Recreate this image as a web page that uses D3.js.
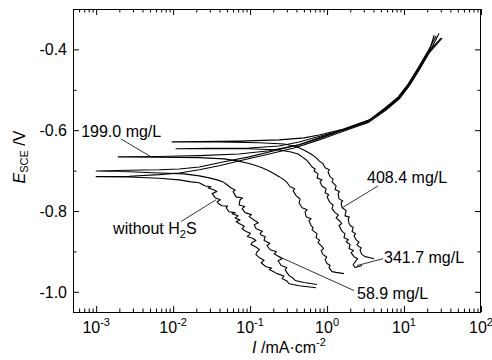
<!DOCTYPE html>
<html>
<head>
<meta charset="utf-8">
<script src="https://cdn.jsdelivr.net/npm/d3@7"></script>
<style>
body{margin:0;background:#fff;}
svg text{font-family:"Liberation Sans",Arial,sans-serif;fill:#000;}
</style>
</head>
<body>
<svg id="chart" width="492" height="360"></svg>
<script>
// polarization curves, points are [I (mA/cm2), E (V vs SCE)], scan from cathodic end to anodic end
const noH2S = [[0.719,-0.990],[0.433,-0.985],[0.321,-0.980],[0.300,-0.973],[0.260,-0.967],[0.275,-0.961],[0.224,-0.955],
  [0.200,-0.950],[0.177,-0.945],[0.190,-0.941],[0.161,-0.938],[0.139,-0.928],[0.152,-0.922],[0.131,-0.915],[0.119,-0.908],
  [0.123,-0.901],[0.132,-0.895],[0.116,-0.888],[0.103,-0.883],[0.106,-0.878],[0.119,-0.873],[0.109,-0.868],[0.092,-0.863],
  [0.0971,-0.859],[0.101,-0.855],[0.0887,-0.851],[0.0787,-0.844],[0.084,-0.838],[0.0720,-0.831],[0.066,-0.826],
  [0.0741,-0.822],[0.0638,-0.817],[0.070,-0.812],[0.0583,-0.807],[0.064,-0.804],[0.0533,-0.802],[0.0488,-0.792],
  [0.051,-0.788],[0.0433,-0.787],[0.039,-0.782],[0.0373,-0.777],[0.041,-0.772],[0.0351,-0.767],[0.0321,-0.757],
  [0.037,-0.752],[0.0331,-0.747],[0.0285,-0.743],[0.031,-0.740],[0.0261,-0.738],[0.0218,-0.730],[0.0171,-0.728],
  [0.0120,-0.723],[0.00658,-0.719],[0.00268,-0.716],[0.00100,-0.715],[0.00268,-0.714],[0.00658,-0.710],[0.0120,-0.706],
  [0.0218,-0.698],[0.0396,-0.688],[0.0836,-0.673],[0.177,-0.659],[0.373,-0.644],[0.787,-0.624],[1.66,-0.602],[3.51,-0.580],
  [5.84,-0.550],[8.61,-0.523],[11.6,-0.491],[15.7,-0.451],[21.1,-0.409],[31.2,-0.372]];

const c589 = [[0.741,-0.982],[0.503,-0.977],[0.384,-0.972],[0.36,-0.966],[0.321,-0.960],[0.300,-0.952],[0.285,-0.945],
  [0.30,-0.940],[0.253,-0.935],[0.231,-0.923],[0.26,-0.918],[0.238,-0.913],[0.205,-0.906],[0.22,-0.901],[0.182,-0.896],
  [0.166,-0.886],[0.18,-0.880],[0.152,-0.873],[0.157,-0.863],[0.14,-0.860],[0.135,-0.856],[0.145,-0.850],[0.120,-0.844],
  [0.113,-0.834],[0.128,-0.829],[0.116,-0.824],[0.0971,-0.814],[0.104,-0.809],[0.0861,-0.804],[0.0787,-0.794],
  [0.085,-0.789],[0.0720,-0.785],[0.0741,-0.772],[0.080,-0.768],[0.0658,-0.765],[0.0601,-0.752],[0.064,-0.748],
  [0.0566,-0.743],[0.0502,-0.735],[0.0446,-0.728],[0.0373,-0.723],[0.0294,-0.718],[0.0218,-0.713],[0.0139,-0.708],
  [0.00658,-0.706],[0.00268,-0.703],[0.00100,-0.701],[0.00268,-0.699],[0.00658,-0.698],[0.0120,-0.696],[0.0218,-0.691],
  [0.0459,-0.678],[0.0971,-0.666],[0.205,-0.651],[0.433,-0.636],[0.836,-0.619],[1.66,-0.599],[3.51,-0.577],[5.66,-0.547],
  [8.36,-0.520],[11.3,-0.488],[15.2,-0.449],[20.5,-0.407],[30.3,-0.372]];

const c1990 = [[1.66,-0.955],[1.31,-0.952],[1.16,-0.950],[1.06,-0.940],[1.10,-0.935],[1.00,-0.930],[0.942,-0.920],
  [0.99,-0.914],[0.887,-0.908],[0.836,-0.898],[0.90,-0.893],[0.861,-0.888],[0.764,-0.878],[0.80,-0.872],[0.719,-0.866],
  [0.741,-0.856],[0.68,-0.851],[0.638,-0.846],[0.66,-0.841],[0.619,-0.836],[0.583,-0.824],[0.62,-0.819],[0.534,-0.814],
  [0.518,-0.802],[0.55,-0.797],[0.474,-0.792],[0.433,-0.780],[0.446,-0.770],[0.42,-0.766],[0.396,-0.762],[0.362,-0.750],
  [0.38,-0.745],[0.331,-0.740],[0.303,-0.730],[0.277,-0.723],[0.238,-0.715],[0.205,-0.708],[0.177,-0.701],[0.143,-0.693],
  [0.113,-0.686],[0.0914,-0.681],[0.0678,-0.676],[0.0459,-0.671],[0.0218,-0.668],[0.00658,-0.667],[0.00193,-0.666],
  [0.00658,-0.665],[0.0218,-0.663],[0.0720,-0.659],[0.177,-0.651],[0.433,-0.636],[0.836,-0.617],[1.66,-0.597],[3.51,-0.575],
  [5.66,-0.545],[8.36,-0.518],[11.3,-0.486],[15.2,-0.446],[20.5,-0.404],[26.1,-0.367]];

const c3417 = [[2.85,-0.935],[2.31,-0.940],[2.18,-0.933],[2.38,-0.923],[2.5,-0.918],[2.24,-0.913],[2.05,-0.903],
  [2.2,-0.898],[1.93,-0.893],[1.99,-0.883],[1.77,-0.876],[1.9,-0.871],[1.66,-0.866],[1.71,-0.856],[1.58,-0.851],
  [1.52,-0.846],[1.43,-0.836],[1.55,-0.831],[1.48,-0.826],[1.31,-0.817],[1.40,-0.810],[1.27,-0.804],[1.16,-0.794],
  [1.20,-0.785],[1.10,-0.780],[1.06,-0.775],[1.00,-0.765],[1.05,-0.760],[0.942,-0.755],[0.971,-0.745],[0.861,-0.738],
  [0.811,-0.728],[0.86,-0.723],[0.741,-0.718],[0.764,-0.708],[0.678,-0.701],[0.70,-0.696],[0.638,-0.691],[0.583,-0.681],
  [0.534,-0.673],[0.474,-0.666],[0.420,-0.659],[0.341,-0.654],[0.238,-0.649],[0.0971,-0.646],[0.0294,-0.646],
  [0.0109,-0.646],[0.0294,-0.645],[0.0971,-0.644],[0.238,-0.639],[0.433,-0.629],[0.741,-0.617],[1.66,-0.599],[3.51,-0.577],
  [5.84,-0.547],[8.61,-0.520],[11.6,-0.488],[15.7,-0.449],[21.1,-0.407],[24.6,-0.365]];

const c4084 = [[4.08,-0.918],[3.51,-0.915],[3.12,-0.913],[2.85,-0.908],[2.68,-0.898],[2.77,-0.891],[2.55,-0.887],
  [2.45,-0.883],[2.6,-0.877],[2.38,-0.871],[2.24,-0.861],[2.35,-0.856],[2.11,-0.851],[2.18,-0.841],[2.0,-0.836],
  [1.93,-0.831],[1.88,-0.819],[1.95,-0.815],[1.71,-0.812],[1.77,-0.799],[1.66,-0.795],[1.57,-0.792],[1.52,-0.780],
  [1.60,-0.775],[1.43,-0.770],[1.39,-0.757],[1.45,-0.752],[1.27,-0.747],[1.31,-0.738],[1.16,-0.728],[1.20,-0.721],
  [1.09,-0.715],[1.03,-0.703],[1.07,-0.698],[0.942,-0.693],[0.887,-0.683],[0.787,-0.676],[0.719,-0.668],[0.619,-0.659],
  [0.518,-0.651],[0.408,-0.641],[0.277,-0.634],[0.131,-0.631],[0.0396,-0.629],[0.0161,-0.629],[0.0097,-0.629],
  [0.0218,-0.628],[0.0720,-0.627],[0.238,-0.624],[0.503,-0.619],[0.787,-0.612],[1.66,-0.597],[3.51,-0.575],[6.01,-0.545],
  [8.87,-0.518],[12.0,-0.486],[16.1,-0.446],[21.8,-0.404],[28.5,-0.360]];

const seriesList = [noH2S, c589, c1990, c3417, c4084];

// ticks
const xMajor = [1e-3, 1e-2, 1e-1, 1, 10, 100];
const xExp = ["-3", "-2", "-1", "0", "1", "2"];
const yMajor = [-1.0, -0.8, -0.6, -0.4];
const yMinor = [-0.9, -0.7, -0.5];

// annotations: label position, then pointer from / to (data units)
const notes = [
  {text: "199.0 mg/L", at: [0.000638, -0.617], from: [0.00211, -0.622], to: [0.00518, -0.666]},
  {text: "without H", sub: "2", tail: "S", at: [0.00166, -0.858], from: [0.0127, -0.826], to: [0.0362, -0.772]},
  {text: "408.4 mg/L", at: [3.31, -0.730], from: [4.59, -0.738], to: [1.57, -0.792]},
  {text: "341.7 mg/L", at: [5.50, -0.928], from: [5.34, -0.918], to: [2.45, -0.935]},
  {text: "58.9 mg/L", at: [2.45, -1.017], from: [2.24, -0.997], to: [0.238, -0.913]}
];

const svg = d3.select("#chart");
const L = 73, R = 481, T = 9, B = 312;
const x = d3.scaleLog().domain([5e-4, 100]).range([L, R]);
const y = d3.scaleLinear().domain([-1.05, -0.30]).range([B, T]);

let xMinor = [];
for (let p = -4; p <= 1; p++) {
  for (let k = 2; k <= 9; k++) {
    const v = k * Math.pow(10, p);
    if (v >= 5e-4 && v < 100) xMinor.push(v);
  }
}

function addAxis(gen, tx, ty) {
  svg.append("g")
    .attr("transform", "translate(" + tx + "," + ty + ")")
    .call(gen)
    .call(g => g.select(".domain").remove());
}
// inward ticks on all four sides
addAxis(d3.axisBottom(x).tickValues(xMajor).tickSize(-6).tickFormat(""), 0, B);
addAxis(d3.axisBottom(x).tickValues(xMinor).tickSize(-3.5).tickFormat(""), 0, B);
addAxis(d3.axisTop(x).tickValues(xMajor).tickSize(-6).tickFormat(""), 0, T);
addAxis(d3.axisTop(x).tickValues(xMinor).tickSize(-3.5).tickFormat(""), 0, T);
addAxis(d3.axisLeft(y).tickValues(yMajor).tickSize(-6).tickFormat(""), L, 0);
addAxis(d3.axisLeft(y).tickValues(yMinor).tickSize(-3.5).tickFormat(""), L, 0);
addAxis(d3.axisRight(y).tickValues(yMajor).tickSize(-6).tickFormat(""), R, 0);
addAxis(d3.axisRight(y).tickValues(yMinor).tickSize(-3.5).tickFormat(""), R, 0);

svg.append("rect")
  .attr("x", L + 0.5).attr("y", T + 0.5)
  .attr("width", R - L - 1).attr("height", B - T)
  .attr("fill", "none").attr("stroke", "#000").attr("stroke-width", 1);

// tick labels
const xl = svg.append("g").selectAll("text").data(xMajor).enter().append("text")
  .attr("x", d => x(d)).attr("y", 333)
  .attr("text-anchor", "middle").attr("font-size", 16);
xl.append("tspan").text("10");
xl.append("tspan").attr("dy", -7).attr("font-size", 11).text((d, i) => xExp[i]);

svg.append("g").selectAll("text").data(yMajor).enter().append("text")
  .attr("x", 67).attr("y", d => y(d)).attr("dy", "0.36em")
  .attr("text-anchor", "end").attr("font-size", 16)
  .text(d => d.toFixed(1));

// axis titles
const yt = svg.append("text")
  .attr("transform", "translate(25,157) rotate(-90)")
  .attr("text-anchor", "middle").attr("font-size", 16);
yt.append("tspan").attr("font-style", "italic").text("E");
yt.append("tspan").attr("font-size", 11).attr("dy", 3).text("SCE");
yt.append("tspan").attr("dy", -3).text(" /V");

const xt = svg.append("text")
  .attr("x", 289).attr("y", 353)
  .attr("text-anchor", "middle").attr("font-size", 16);
xt.append("tspan").attr("font-style", "italic").text("I");
xt.append("tspan").text(" /mA\u00b7cm");
xt.append("tspan").attr("dy", -7).attr("font-size", 11).text("-2");

// curves
const line = d3.line().x(d => x(d[0])).y(d => y(d[1]));
svg.append("g").selectAll("path").data(seriesList).enter().append("path")
  .attr("d", line)
  .attr("fill", "none").attr("stroke", "#000").attr("stroke-width", 1.1)
  .attr("stroke-linejoin", "round");

// annotations
notes.forEach(n => {
  svg.append("line")
    .attr("x1", x(n.from[0])).attr("y1", y(n.from[1]))
    .attr("x2", x(n.to[0])).attr("y2", y(n.to[1]))
    .attr("stroke", "#000").attr("stroke-width", 0.8);
  const t = svg.append("text")
    .attr("x", x(n.at[0])).attr("y", y(n.at[1]))
    .attr("font-size", 16);
  t.append("tspan").text(n.text);
  if (n.sub) {
    t.append("tspan").attr("dy", 4).attr("font-size", 11).text(n.sub);
    t.append("tspan").attr("dy", -4).text(n.tail);
  }
});
</script>
</body>
</html>
